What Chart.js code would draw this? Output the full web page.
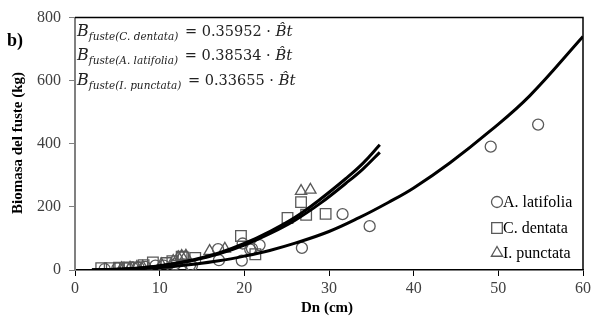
<!DOCTYPE html>
<html>
<head>
<meta charset="utf-8">
<script src="https://cdn.jsdelivr.net/npm/chart.js@4.4.1/dist/chart.umd.min.js"></script>
<style>
html,body{margin:0;padding:0;background:#fff;}
#wrap{width:601px;height:321px;position:relative;}
</style>
</head>
<body>
<div id="wrap"><canvas id="c" width="601" height="321"></canvas></div>
<script>
// ---- data ----
const seriesNames = ['A. latifolia', 'C. dentata', 'I. punctata'];

const latifoliaDn      = [3.5, 5.0, 6.0, 6.8, 7.5, 8.3, 9.5, 10.5, 11.8, 13.6, 13.8, 16.9, 17.0, 19.7, 19.8, 20.7, 20.9, 21.8, 26.8, 31.6, 34.8, 49.1, 54.7];
const latifoliaBiomass = [3, 5, 6, 8, 9, 10, 14, 14, 18, 16, 13, 66, 31, 30, 84, 65, 68, 79, 70, 177, 139, 391, 461];

const dentataDn      = [3.1, 4.1, 5.2, 5.9, 6.3, 7.2, 8.1, 9.2, 10.8, 11.5, 12.6, 12.8, 14.2, 19.6, 21.3, 25.1, 26.7, 27.3, 29.6];
const dentataBiomass = [6, 6, 7, 6, 8, 7, 15, 24, 22, 28, 42, 40, 38, 108, 50, 165, 215, 175, 178];

const punctataDn      = [5.5, 6.5, 7.3, 8.0, 10.2, 11.6, 12.2, 12.6, 13.1, 15.9, 17.7, 26.7, 27.8];
const punctataBiomass = [5, 7, 9, 10, 18, 28, 40, 44, 45, 60, 67, 250, 254];

// fitted curves
const curveLatDn  = [2, 5, 8, 11, 14, 17, 20, 23, 26, 30, 33.5, 37, 40, 44.3, 49, 53.7, 60];
const curveLatB   = [0.1, 1.2, 4.5, 9.5, 18, 29, 44, 62, 85, 122, 165, 214, 260, 340, 440, 552, 740];
const curveUpDn   = [2, 5, 8, 11, 14, 17, 20, 23, 26, 29, 32, 34, 36];
const curveUp1B   = [0.2, 2.2, 7.5, 17.5, 33, 54, 84, 122, 167, 225, 290, 338, 397];
const curveUp2B   = [0.2, 2, 7, 16.5, 31, 51, 79, 115, 158, 212, 275, 320, 373];

const xTicks = [0, 10, 20, 30, 40, 50, 60];
const yTicks = [0, 200, 400, 600, 800];

const equations = [
  {sub: 'fuste(C. dentata)',   coef: '0.35952'},
  {sub: 'fuste(A. latifolia)', coef: '0.38534'},
  {sub: 'fuste(I. punctata)',  coef: '0.33655'}
];

// ---- build ----
const pts = (xs, ys) => xs.map((x, i) => ({x: x, y: ys[i]}));
const markerColor = '#595959';
const SERIF = '"Liberation Serif", "Times New Roman", serif';

const lineDs = (xs, ys) => ({
  type: 'line', data: pts(xs, ys), borderColor: '#000', borderWidth: 3,
  pointRadius: 0, fill: false, tension: 0.4, showLine: true
});
const scatterDs = (label, xs, ys, style, r) => ({
  label: label, data: pts(xs, ys), pointStyle: style, pointRadius: r, pointHoverRadius: r,
  borderColor: markerColor, backgroundColor: 'rgba(0,0,0,0)', pointBorderWidth: 1.3, showLine: false
});

const pointStyles = ['circle', 'rect', 'triangle'];

const decor = {
  id: 'decor',
  afterDraw(chart) {
    const ctx = chart.ctx;
    const a = chart.chartArea;
    ctx.save();
    // top & right frame
    ctx.strokeStyle = '#000';
    ctx.lineWidth = 1.5;
    ctx.beginPath();
    ctx.moveTo(a.left, a.top);
    ctx.lineTo(a.right, a.top);
    ctx.lineTo(a.right, a.bottom);
    ctx.stroke();

    // panel label
    ctx.fillStyle = '#000';
    ctx.font = 'bold 18px ' + SERIF;
    ctx.textAlign = 'left';
    ctx.textBaseline = 'middle';
    ctx.fillText('b)', 7, 41);

    // axis titles
    ctx.font = 'bold 15px ' + SERIF;
    ctx.textAlign = 'center';
    ctx.fillText('Dn (cm)', 327, 308);
    ctx.save();
    ctx.translate(18, 143);
    ctx.rotate(-Math.PI / 2);
    ctx.fillText('Biomasa del fuste (kg)', 0, 0);
    ctx.restore();

    // equations
    ctx.fillStyle = '#222';
    ctx.textAlign = 'left';
    ctx.textBaseline = 'alphabetic';
    const baseY = [36, 60, 85];
    equations.forEach((eq, i) => {
      let x = 77;
      const y = baseY[i];
      ctx.font = 'italic 16px "DejaVu Serif", serif';
      ctx.fillText('B', x, y);
      x += ctx.measureText('B').width;
      ctx.font = 'italic 10.5px "DejaVu Serif", serif';
      ctx.fillText(eq.sub, x, y + 4);
      x += ctx.measureText(eq.sub).width + 2;
      ctx.font = '14.5px "DejaVu Serif", serif';
      const mid = ' = ' + eq.coef + ' \u00B7 ';
      ctx.fillText(mid, x, y);
      x += ctx.measureText(mid).width;
      ctx.font = 'italic 15px "DejaVu Serif", serif';
      ctx.fillText('B\u0302t', x, y);
    });

    // legend
    const ly = [202, 228, 253];
    chart.data.datasets.forEach((ds) => {
      const k = seriesNames.indexOf(ds.label);
      if (k < 0) return;
      ctx.strokeStyle = markerColor;
      ctx.fillStyle = 'rgba(0,0,0,0)';
      ctx.lineWidth = 1.3;
      Chart.helpers.drawPoint(ctx, {
        pointStyle: ds.pointStyle, radius: ds.pointRadius, borderWidth: 1.3
      }, 497, ly[k]);
      ctx.fillStyle = '#000';
      ctx.font = '16px ' + SERIF;
      ctx.textBaseline = 'middle';
      ctx.textAlign = 'left';
      ctx.fillText(ds.label, 503, ly[k] + 1);
    });
    ctx.restore();
  }
};

new Chart(document.getElementById('c'), {
  type: 'scatter',
  data: {
    datasets: [
      lineDs(curveUpDn, curveUp1B),
      lineDs(curveUpDn, curveUp2B),
      lineDs(curveLatDn, curveLatB),
      scatterDs(seriesNames[0], latifoliaDn, latifoliaBiomass, pointStyles[0], 5.5),
      scatterDs(seriesNames[1], dentataDn, dentataBiomass, pointStyles[1], 7.5),
      scatterDs(seriesNames[2], punctataDn, punctataBiomass, pointStyles[2], 6.5)
    ]
  },
  options: {
    responsive: false,
    animation: false,
    devicePixelRatio: 1,
    layout: {padding: {top: 16, right: 18, left: 0, bottom: 0}},
    plugins: {legend: {display: false}, tooltip: {enabled: false}},
    scales: {
      x: {
        type: 'linear', min: 0, max: 60,
        afterBuildTicks: s => { s.ticks = xTicks.map(v => ({value: v})); },
        afterFit: s => { s.height = 51; },
        ticks: {font: {family: SERIF, size: 16}, color: '#404040', padding: 3, maxRotation: 0},
        grid: {display: true, drawOnChartArea: false, drawTicks: true, tickLength: 6, color: '#000', lineWidth: 1},
        border: {display: true, color: '#000', width: 1.5}
      },
      y: {
        type: 'linear', min: 0, max: 800,
        afterBuildTicks: s => { s.ticks = yTicks.map(v => ({value: v})); },
        afterFit: s => { s.width = 75; },
        ticks: {font: {family: SERIF, size: 16}, color: '#404040', padding: 8},
        grid: {display: true, drawOnChartArea: false, drawTicks: true, tickLength: 6, color: '#808080', lineWidth: 1},
        border: {display: true, color: '#808080', width: 2}
      }
    }
  },
  plugins: [decor]
});
</script>
</body>
</html>
